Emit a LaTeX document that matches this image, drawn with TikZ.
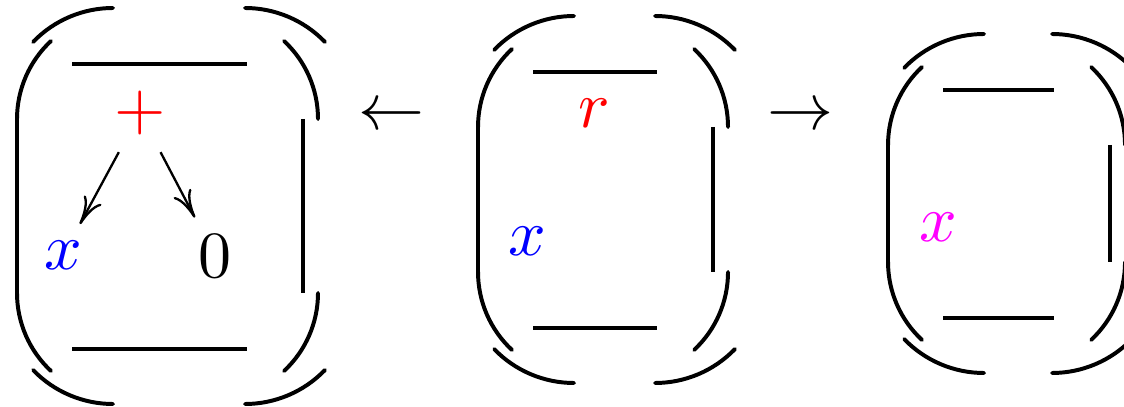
\documentclass[tikz,border=0pt]{standalone}
\usetikzlibrary{arrows.meta}
\definecolor{puremagenta}{RGB}{255,0,255}
\tikzset{
  arcline/.style={line width=0.6pt, line cap=round},
  sideline/.style={line width=0.6pt},
  barline/.style={line width=0.5pt},
  term/.style={inner sep=2.4pt},
  edgearrow/.style={line width=0.35pt, -{To[length=4.2pt,width=3pt]}},
  spanarrow/.style={inner sep=0pt, anchor=base},
}
\newcommand{\bracketbox}[4]{%
  \draw[arcline] (#1,#3-111) arc[start angle=180,end angle=133,radius=106.5];
  \draw[arcline] (#1+96,#3) arc[start angle=90,end angle=136,radius=111];
  \draw[arcline] (#2,#3-111) arc[start angle=0,end angle=47,radius=106.5];
  \draw[arcline] (#2-73,#3) arc[start angle=90,end angle=44,radius=111];
  \draw[arcline] (#1,#4+111) arc[start angle=180,end angle=227,radius=106.5];
  \draw[arcline] (#1+96,#4) arc[start angle=270,end angle=224,radius=111];
  \draw[arcline] (#2,#4+111) arc[start angle=0,end angle=-47,radius=106.5];
  \draw[arcline] (#2-73,#4) arc[start angle=270,end angle=316,radius=111];
  \draw[sideline] (#1,#3-111) -- (#1,#4+111);
  \draw[sideline] (#2-15,#3-111) -- (#2-15,#4+111);
  \draw[barline] (#1+55,#3-56) -- (#2-71.5,#3-56);
  \draw[barline] (#1+55,#4+55) -- (#2-71.5,#4+55);
}
\begin{document}
\begin{tikzpicture}[x=0.1515pt, y=0.1515pt]
\useasboundingbox (0,0) rectangle (1124,406);
% left box
\bracketbox{17}{318}{398}{2}
\node[term, text=red] (plus) at (140,293) {$+$};
\node[term, text=blue] (xa) at (63,150.5) {$x$};
\node[term] (zero) at (215,150) {$0$};
\draw[edgearrow] (plus) -- (xa);
\draw[edgearrow] (plus) -- (zero);
% span arrows
\node[spanarrow] (larr) at (391,276.5) {$\leftarrow$};
\node[spanarrow] (rarr) at (800,276.5) {$\rightarrow$};
% middle box
\bracketbox{478}{728}{390}{23}
\node[term, text=red] (r) at (594,293) {$r$};
\node[term, text=blue] (xb) at (527,165) {$x$};
% right box
\bracketbox{888}{1125}{372}{33}
\node[term, text=puremagenta] (xc) at (938,179) {$x$};
\end{tikzpicture}
\end{document}
